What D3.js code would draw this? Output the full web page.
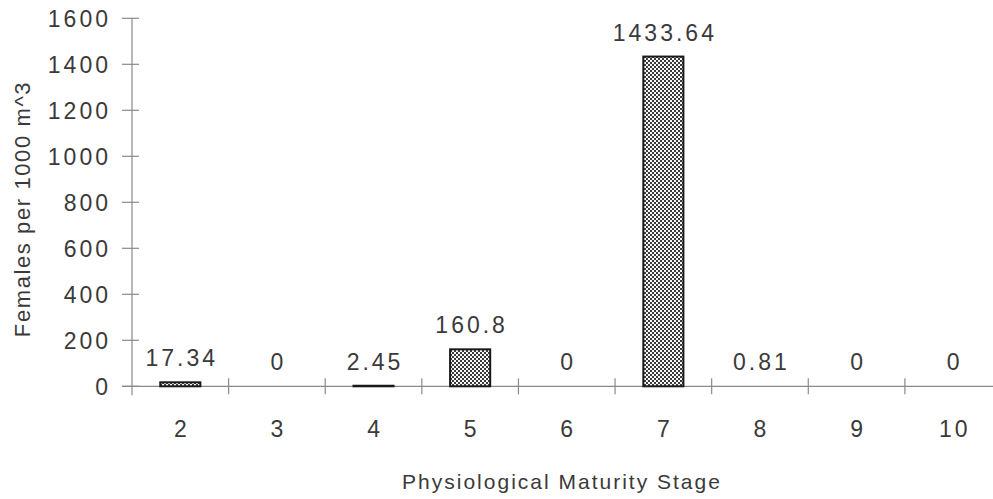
<!DOCTYPE html>
<html>
<head>
<meta charset="utf-8">
<script src="https://cdn.jsdelivr.net/npm/d3@7"></script>
<style>
  html, body { margin: 0; padding: 0; background: #fff; }
  svg text { font-family: "Liberation Sans", Arial, sans-serif; fill: #3a3a3a; }
</style>
</head>
<body>
<svg id="chart" width="993" height="499"></svg>
<script>
// Female density by physiological maturity stage
const stages = ["2", "3", "4", "5", "6", "7", "8", "9", "10"];
const females = [17.34, 0, 2.45, 160.8, 0, 1433.64, 0.81, 0, 0];
const valueLabels = ["17.34", "0", "2.45", "160.8", "0", "1433.64", "0.81", "0", "0"];
const yTicks = [0, 200, 400, 600, 800, 1000, 1200, 1400, 1600];

const svg = d3.select("#chart");
const plot = { left: 132, right: 1001.5, top: 18.3, bottom: 386.3 };
const fontSize = 23, spacing = 3;

// Checkered fill for the bars
const defs = svg.append("defs");
const pat = defs.append("pattern")
  .attr("id", "checker")
  .attr("patternUnits", "userSpaceOnUse")
  .attr("width", 4).attr("height", 4);
pat.append("rect").attr("width", 4).attr("height", 4).attr("fill", "#f6f6f6");
pat.append("rect").attr("x", 0).attr("y", 0).attr("width", 2).attr("height", 2).attr("fill", "#3c3c3c");
pat.append("rect").attr("x", 2).attr("y", 2).attr("width", 2).attr("height", 2).attr("fill", "#3c3c3c");

const x = d3.scaleBand()
  .domain(stages)
  .range([plot.left, plot.right])
  .paddingInner(0.585)
  .paddingOuter(0.2925);
const step = x.step();
const slotLeft = d => plot.left + stages.indexOf(d) * step;
const center = d => x(d) + x.bandwidth() / 2 + spacing / 2;

const y = d3.scaleLinear().domain([0, 1600]).range([plot.bottom, plot.top]);

const axisColor = "#8a8a8a";

// Y axis: line, crossing ticks, labels
svg.append("line")
  .attr("x1", plot.left).attr("x2", plot.left)
  .attr("y1", y(1600)).attr("y2", plot.bottom + 9)
  .attr("stroke", axisColor).attr("stroke-width", 1.2);

const yt = svg.append("g").selectAll("g").data(yTicks).join("g");
yt.append("line")
  .attr("x1", plot.left - 10).attr("x2", plot.left + 7)
  .attr("y1", d => y(d)).attr("y2", d => y(d))
  .attr("stroke", axisColor).attr("stroke-width", 1.2);
yt.append("text")
  .attr("x", 108 + spacing)
  .attr("y", d => y(d) + 8.5)
  .attr("text-anchor", "end")
  .attr("font-size", fontSize)
  .attr("letter-spacing", spacing + "px")
  .text(d => d);

// X axis: baseline with slot-boundary ticks
svg.append("line")
  .attr("x1", plot.left - 10).attr("x2", 993)
  .attr("y1", plot.bottom).attr("y2", plot.bottom)
  .attr("stroke", axisColor).attr("stroke-width", 1.2);

svg.append("g").selectAll("line").data(stages.slice(1)).join("line")
  .attr("x1", d => slotLeft(d)).attr("x2", d => slotLeft(d))
  .attr("y1", plot.bottom - 8).attr("y2", plot.bottom + 8)
  .attr("stroke", axisColor).attr("stroke-width", 1.2);

svg.append("g").selectAll("text").data(stages).join("text")
  .attr("x", d => center(d))
  .attr("y", 437)
  .attr("text-anchor", "middle")
  .attr("font-size", fontSize)
  .attr("letter-spacing", spacing + "px")
  .text(d => d);

// Bars (values below one unit are too thin to show)
svg.append("g").selectAll("rect").data(females.filter(v => v >= 1)).join("rect")
  .attr("x", d => x(stages[females.indexOf(d)]))
  .attr("width", x.bandwidth())
  .attr("y", d => y(d))
  .attr("height", d => y(0) - y(d))
  .attr("fill", "url(#checker)")
  .attr("stroke", "#1a1a1a")
  .attr("stroke-width", 2);

// Value labels above bars
svg.append("g").selectAll("text").data(females).join("text")
  .attr("x", (d, i) => center(stages[i]))
  .attr("y", d => y(d) - 16)
  .attr("text-anchor", "middle")
  .attr("font-size", fontSize)
  .attr("letter-spacing", spacing + "px")
  .text((d, i) => valueLabels[i]);

// Axis titles
svg.append("text")
  .attr("x", 562).attr("y", 489)
  .attr("text-anchor", "middle")
  .attr("font-size", 21)
  .attr("letter-spacing", "2px")
  .text("Physiological Maturity Stage");

svg.append("text")
  .attr("transform", "translate(30,209) rotate(-90)")
  .attr("text-anchor", "middle")
  .attr("font-size", 22)
  .attr("letter-spacing", "1.6px")
  .text("Females per 1000 m^3");
</script>
</body>
</html>
